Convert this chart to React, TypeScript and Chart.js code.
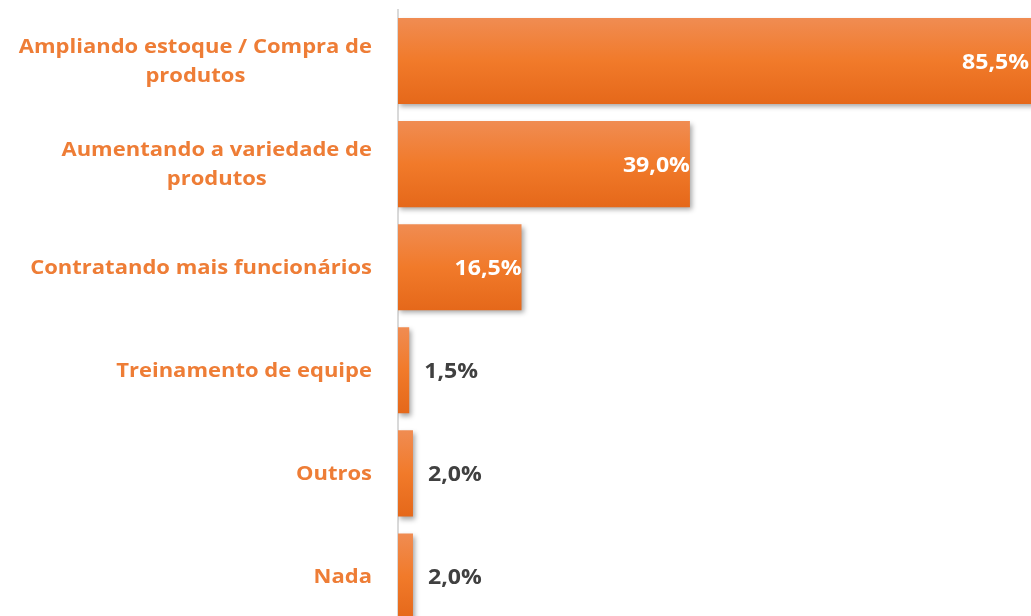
import React, { useEffect, useRef } from "react";
import { Chart, registerables } from "chart.js";

Chart.register(...registerables);

const categories: (string | string[])[] = [
  ["Ampliando estoque / Compra de", "produtos"],
  ["Aumentando a variedade de", "produtos"],
  "Contratando mais funcionários",
  "Treinamento de equipe",
  "Outros",
  "Nada",
];
const values = [85.5, 39.0, 16.5, 1.5, 2.0, 2.0];
const valueLabels = ["85,5%", "39,0%", "16,5%", "1,5%", "2,0%", "2,0%"];

const ORANGE_TEXT = "#EE7D36";
const STRETCH = 1.1;

export default function App() {
  const ref = useRef<HTMLCanvasElement | null>(null);

  useEffect(() => {
    if (!ref.current) return;

    const shadowPlugin = {
      id: "barShadow",
      beforeDatasetsDraw(chart: any) {
        const c = chart.ctx;
        c.save();
        c.shadowColor = "rgba(0,0,0,0.35)";
        c.shadowBlur = 5;
        c.shadowOffsetX = 2;
        c.shadowOffsetY = 3;
      },
      afterDatasetsDraw(chart: any) {
        chart.ctx.restore();
      },
    };

    const stretchedText = (c: any, text: string, x: number, y: number, align: string) => {
      c.save();
      c.translate(x, y);
      c.scale(STRETCH, 1);
      c.textAlign = align;
      c.fillText(text, 0, 0);
      c.restore();
    };

    const labelPlugin = {
      id: "textLabels",
      afterDatasetsDraw(chart: any) {
        const c = chart.ctx;
        const meta = chart.getDatasetMeta(0);
        const yScale = chart.scales.y;
        c.save();
        c.textBaseline = "middle";
        // category labels (block right-aligned, lines centered within block)
        c.font = 'bold 20px "Open Sans"';
        c.fillStyle = ORANGE_TEXT;
        const right = 372;
        categories.forEach((cat, i) => {
          const lines = Array.isArray(cat) ? cat : [cat];
          const yc = yScale.getPixelForValue(i) + 1;
          const lh = 29;
          const start = yc - ((lines.length - 1) * lh) / 2;
          const maxW = Math.max(...lines.map((l) => c.measureText(l).width * STRETCH));
          const cx = right - maxW / 2;
          lines.forEach((ln, k) => {
            stretchedText(c, ln, cx, start + k * lh, "center");
          });
        });
        // value labels
        c.font = 'bold 21px "Open Sans"';
        meta.data.forEach((bar: any, i: number) => {
          const end = bar.x;
          const y = bar.y + 2;
          if (values[i] > 10) {
            c.fillStyle = "#FFFFFF";
            stretchedText(c, valueLabels[i], Math.min(end, 1029), y, "right");
          } else {
            c.fillStyle = "#404040";
            stretchedText(c, valueLabels[i], end + 15, y, "left");
          }
        });
        c.restore();
      },
    };

    const chart = new Chart(ref.current, {
      type: "bar",
      data: {
        labels: categories,
        datasets: [
          {
            data: values,
            barPercentage: 0.835,
            categoryPercentage: 1,
            borderWidth: 0,
            backgroundColor: (ctx: any) => {
              const ch = ctx.chart;
              if (!ch.chartArea || !ch.scales.y) return "#F07A2A";
              const yc = ch.scales.y.getPixelForValue(ctx.dataIndex);
              const g = ch.ctx.createLinearGradient(0, yc - 43, 0, yc + 43);
              g.addColorStop(0, "#F08C52");
              g.addColorStop(0.5, "#F17A2A");
              g.addColorStop(1, "#E5681A");
              return g;
            },
          },
        ],
      },
      options: {
        indexAxis: "y",
        responsive: false,
        animation: false,
        layout: { padding: { top: 9.5, bottom: 12, left: 0, right: 0 } },
        plugins: {
          legend: { display: false },
          tooltip: { enabled: false },
        },
        scales: {
          x: {
            display: false,
            min: 0,
            max: 85.5,
          },
          y: {
            offset: true,
            grid: { display: false, drawTicks: false },
            border: { display: true, color: "#D9D9D9", width: 2 },
            ticks: { display: false },
            afterFit: (s: any) => {
              s.width = 398;
              s.paddingTop = 0;
              s.paddingBottom = 0;
            },
          },
        },
      },
      plugins: [shadowPlugin, labelPlugin],
    } as any);

    return () => chart.destroy();
  }, []);

  return (
    <div
      style={{
        position: "fixed",
        left: 0,
        top: 0,
        width: 1031,
        height: 616,
        overflow: "hidden",
        background: "#FFFFFF",
      }}
    >
      <canvas ref={ref} width={1038} height={640} style={{ display: "block" }} />
    </div>
  );
}
